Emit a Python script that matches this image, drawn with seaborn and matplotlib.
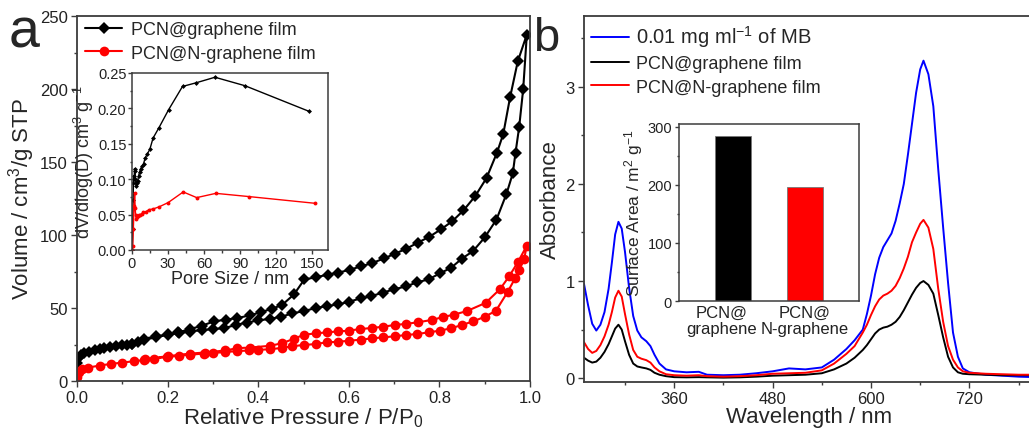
import matplotlib
matplotlib.use("Agg")
import matplotlib.pyplot as plt
import matplotlib.transforms as mtransforms
import seaborn as sns
import pandas as pd
from matplotlib.ticker import MultipleLocator

# ---------------- data ----------------
# N2 isotherms (adsorption branch then desorption branch), P/P0 vs cm3/g STP
graphene_ads_p = [0.0, 0.003, 0.008, 0.015, 0.027, 0.04, 0.05, 0.06, 0.072, 0.085, 0.099, 0.11, 0.122,
                  0.135, 0.149, 0.175, 0.2, 0.225, 0.25, 0.275, 0.301, 0.325, 0.352, 0.375, 0.4, 0.425,
                  0.451, 0.475, 0.501, 0.527, 0.551, 0.577, 0.601, 0.626, 0.65, 0.675, 0.70, 0.726,
                  0.751, 0.776, 0.801, 0.826, 0.85, 0.874, 0.90, 0.926, 0.948, 0.962, 0.968, 0.976,
                  0.985, 0.993]
graphene_ads_v = [12.2, 15.5, 17.9, 19.0, 20.2, 21.3, 22.0, 22.6, 23.3, 24.0, 24.5, 25.0, 25.5,
                  26.5, 28.2, 30.0, 31.7, 32.8, 33.9, 34.8, 35.6, 36.2, 38.5, 40.0, 41.5, 42.5,
                  44.0, 46.3, 47.9, 50.0, 51.3, 52.5, 54.3, 56.6, 58.2, 60.5, 62.8, 64.8,
                  67.6, 69.6, 73.7, 77.6, 83.9, 88.9, 98.3, 110.6, 128.1, 142.2, 156.3, 173.7,
                  200.0, 237.3]
graphene_des_p = [0.973, 0.956, 0.941, 0.927, 0.904, 0.879, 0.853, 0.828, 0.803, 0.778, 0.752, 0.727,
                  0.702, 0.678, 0.652, 0.627, 0.602, 0.577, 0.553, 0.527, 0.502, 0.479, 0.452, 0.43,
                  0.407, 0.382, 0.354, 0.328, 0.302, 0.275, 0.25, 0.223, 0.2, 0.175, 0.149, 0.122]
graphene_des_v = [218.9, 194.3, 169.2, 156.3, 139.0, 126.6, 116.8, 109.3, 103.8, 98.8, 94.7, 90.6,
                  87.2, 84.0, 80.8, 78.5, 76.2, 74.2, 72.8, 71.0, 69.6, 59.3, 51.9, 49.5,
                  47.2, 45.0, 43.1, 42.0, 40.8, 37.8, 35.6, 33.3, 32.1, 30.5, 29.1, 25.5]

ngraphene_ads_p = [0.0, 0.004, 0.012, 0.025, 0.05, 0.075, 0.099, 0.125, 0.149, 0.171, 0.198, 0.225,
                   0.25, 0.28, 0.30, 0.327, 0.354, 0.38, 0.40, 0.426, 0.452, 0.475, 0.501, 0.527,
                   0.551, 0.577, 0.601, 0.626, 0.651, 0.676, 0.701, 0.726, 0.751, 0.776, 0.801,
                   0.826, 0.85, 0.875, 0.901, 0.925, 0.951, 0.967, 0.976, 0.987, 0.993]
ngraphene_ads_v = [3.0, 6.4, 8.0, 9.2, 10.6, 11.7, 12.6, 13.5, 14.4, 15.4, 16.4, 17.3,
                   18.0, 18.8, 19.2, 19.8, 20.5, 20.9, 21.3, 21.8, 22.6, 23.8, 24.7, 25.3,
                   26.5, 26.9, 27.6, 28.3, 29.2, 29.9, 30.6, 31.5, 32.2, 33.3, 34.5,
                   36.1, 38.4, 40.9, 44.1, 48.2, 61.2, 70.3, 76.3, 83.6, 92.7]
ngraphene_des_p = [0.973, 0.954, 0.934, 0.902, 0.86, 0.832, 0.807, 0.783, 0.752, 0.726, 0.702,
                   0.676, 0.651, 0.625, 0.601, 0.577, 0.551, 0.527, 0.501, 0.478, 0.452, 0.426,
                   0.381, 0.354, 0.327, 0.282, 0.25, 0.2, 0.15]
ngraphene_des_v = [81.3, 71.7, 63.0, 53.5, 47.8, 45.5, 43.7, 41.8, 40.2, 39.1, 38.4,
                   37.2, 36.3, 35.6, 34.5, 34.0, 33.3, 32.6, 31.7, 28.8, 25.8, 24.1,
                   22.9, 22.5, 20.9, 19.5, 18.8, 17.0, 15.0]

# Pore size distributions (nm, cm3/g)
psd_graphene_d = [0.3, 0.6, 0.9, 1.2, 1.5, 1.8, 2.1, 2.5, 2.9, 3.3, 3.7, 4.2, 4.8, 5.5, 6.3, 7.2,
                  8.3, 9.6, 11.0, 12.8, 14.8, 17.5, 22.5, 30.4, 42.0, 53.0, 69.0, 94.0, 147.0]
psd_graphene_v = [0.0, 0.03, 0.07, 0.095, 0.105, 0.10, 0.115, 0.112, 0.10, 0.095, 0.09, 0.095,
                  0.098, 0.105, 0.11, 0.115, 0.118, 0.122, 0.13, 0.136, 0.142, 0.158, 0.173,
                  0.198, 0.231, 0.236, 0.244, 0.232, 0.196]
psd_ngraphene_d = [0.3, 0.6, 1.1, 1.7, 2.2, 2.6, 3.0, 3.6, 4.2, 5.0, 6.0, 7.0, 8.0, 9.2, 11.4, 14.2,
                   17.6, 22.6, 30.1, 42.6, 53.8, 69.7, 97.0, 152.0]
psd_ngraphene_v = [0.0, 0.006, 0.029, 0.062, 0.081, 0.06, 0.05, 0.044, 0.046, 0.048, 0.049,
                   0.050, 0.051, 0.053, 0.054, 0.057, 0.058, 0.061, 0.067, 0.082, 0.074,
                   0.080, 0.0755, 0.066]

# UV-vis absorption spectra
wavelength = [250, 255, 260, 265, 270, 275, 280, 284, 288, 292, 296, 300, 305, 310, 315, 320, 326,
              331, 336, 342, 350, 360, 375, 390, 400, 420, 440, 460, 480, 500, 520, 540, 555, 570,
              580, 590, 595, 600, 605, 610, 615, 620, 625, 630, 635, 640, 645, 650, 655, 660, 664,
              670, 676, 682, 688, 694, 700, 706, 712, 720, 740, 760, 780, 800]
abs_mb = [0.97, 0.75, 0.56, 0.49, 0.55, 0.68, 0.92, 1.19, 1.48, 1.61, 1.54, 1.30, 0.93, 0.64, 0.49,
          0.42, 0.38, 0.33, 0.24, 0.15, 0.09, 0.07, 0.06, 0.065, 0.035, 0.03, 0.035, 0.05, 0.07,
          0.10, 0.09, 0.11, 0.19, 0.30, 0.39, 0.50, 0.66, 0.85, 1.07, 1.24, 1.35, 1.42, 1.49, 1.62,
          1.80, 2.00, 2.30, 2.62, 2.94, 3.18, 3.27, 3.13, 2.80, 2.15, 1.55, 0.98, 0.47, 0.22, 0.10,
          0.06, 0.035, 0.025, 0.015, 0.01]
abs_graphene = [0.21, 0.18, 0.16, 0.17, 0.21, 0.27, 0.35, 0.43, 0.51, 0.55, 0.50, 0.38, 0.24, 0.15,
                0.12, 0.11, 0.10, 0.085, 0.055, 0.035, 0.02, 0.01, 0.008, 0.01, 0.008, 0.005, 0.008,
                0.015, 0.025, 0.03, 0.035, 0.05, 0.09, 0.15, 0.21, 0.29, 0.34, 0.40, 0.46, 0.50,
                0.52, 0.53, 0.55, 0.58, 0.63, 0.70, 0.78, 0.86, 0.93, 0.98, 1.00, 0.96, 0.87, 0.65,
                0.42, 0.22, 0.11, 0.06, 0.045, 0.04, 0.035, 0.03, 0.03, 0.03]
abs_ngraphene = [0.37, 0.30, 0.26, 0.28, 0.34, 0.43, 0.55, 0.68, 0.83, 0.90, 0.84, 0.66, 0.45, 0.29,
                 0.22, 0.20, 0.185, 0.16, 0.11, 0.07, 0.04, 0.03, 0.025, 0.03, 0.02, 0.015, 0.02,
                 0.03, 0.045, 0.05, 0.055, 0.08, 0.15, 0.25, 0.33, 0.47, 0.55, 0.65, 0.74, 0.81,
                 0.85, 0.87, 0.90, 0.95, 1.03, 1.13, 1.25, 1.40, 1.50, 1.59, 1.63, 1.55, 1.33, 0.92,
                 0.58, 0.33, 0.19, 0.11, 0.07, 0.055, 0.045, 0.04, 0.035, 0.035]

# BET surface areas (m2/g)
sample_labels = ["PCN@\ngraphene", "PCN@\nN-graphene"]
surface_area = [284, 196]

# ---------------- style ----------------
sns.set_theme(style="ticks")
plt.rcParams["font.family"] = ["Liberation Sans", "DejaVu Sans"]
plt.rcParams["mathtext.fontset"] = "custom"
plt.rcParams["mathtext.rm"] = "Liberation Sans"
plt.rcParams["mathtext.it"] = "Liberation Sans:italic"
plt.rcParams["mathtext.default"] = "regular"
SPINE = "#3c3c3c"
RED = "#ff0000"
BLUE = "#0000ff"

W, H = 1029, 431
fig = plt.figure(figsize=(W / 100, H / 100), dpi=100)


def px_axes(l, t, r, b):
    return fig.add_axes([l / W, 1 - b / H, (r - l) / W, (b - t) / H])


def style_axes(ax, lw=1.3, major=4.5, minor=2.5, labelsize=12):
    for s in ax.spines.values():
        s.set_color(SPINE)
        s.set_linewidth(lw)
    ax.tick_params(which="major", direction="out", length=major, width=1.0, color=SPINE,
                   labelsize=labelsize, pad=2, colors="#222222")
    ax.tick_params(which="minor", direction="out", length=minor, width=1.0, color=SPINE)


def branch_frame(ads_p, ads_v, des_p, des_v):
    return pd.DataFrame({"p": list(ads_p) + list(des_p), "v": list(ads_v) + list(des_v)})


# ---------------- panel a: isotherms ----------------
ax1 = px_axes(77, 17, 530, 382)
iso_g = branch_frame(graphene_ads_p, graphene_ads_v, graphene_des_p, graphene_des_v)
iso_n = branch_frame(ngraphene_ads_p, ngraphene_ads_v, ngraphene_des_p, ngraphene_des_v)
sns.lineplot(data=iso_g, x="p", y="v", sort=False, estimator=None, ax=ax1, color="black",
             lw=1.5, marker="D", markersize=6.3, markeredgewidth=0, label="PCN@graphene film")
sns.lineplot(data=iso_n, x="p", y="v", sort=False, estimator=None, ax=ax1, color=RED,
             lw=1.5, marker="o", markersize=7, markeredgewidth=0, label="PCN@N-graphene film")
ax1.set_xlim(0, 1.0)
ax1.set_ylim(0, 250)
ax1.xaxis.set_major_locator(MultipleLocator(0.2))
ax1.xaxis.set_minor_locator(MultipleLocator(0.1))
ax1.yaxis.set_major_locator(MultipleLocator(50))
ax1.yaxis.set_minor_locator(MultipleLocator(25))
ax1.xaxis.set_major_formatter(lambda v, p: f"{v:.1f}")
style_axes(ax1)
ax1.set_xlabel("Relative Pressure / P/P$_0$", fontsize=16, labelpad=0)
ax1.set_ylabel("Volume / cm$^3$/g STP", fontsize=16, labelpad=2)
leg1 = ax1.legend(loc="upper left", bbox_to_anchor=(0.0, 1.008), frameon=False, fontsize=13,
                  handlelength=2.05, handletextpad=0.5, labelspacing=0.35, borderaxespad=0.05)

# inset: pore size distribution
ax1i = px_axes(132, 74, 328, 251)
sns.lineplot(x=psd_graphene_d, y=psd_graphene_v, sort=False, estimator=None, ax=ax1i,
             color="black", lw=1.0, marker="D", markersize=2.5, markeredgewidth=0)
sns.lineplot(x=psd_ngraphene_d, y=psd_ngraphene_v, sort=False, estimator=None, ax=ax1i,
             color=RED, lw=1.0, marker="o", markersize=2.8, markeredgewidth=0)
ax1i.set_xlim(0, 163)
ax1i.set_ylim(0, 0.25)
ax1i.xaxis.set_major_locator(MultipleLocator(30))
ax1i.xaxis.set_minor_locator(MultipleLocator(15))
ax1i.yaxis.set_major_locator(MultipleLocator(0.05))
ax1i.yaxis.set_minor_locator(MultipleLocator(0.025))
ax1i.yaxis.set_major_formatter(lambda v, p: f"{v:.2f}")
style_axes(ax1i, lw=1.1, major=3, minor=1.8, labelsize=10.5)
ax1i.tick_params(pad=1)
ax1i.set_xlabel("Pore Size / nm", fontsize=13, labelpad=0)
ax1i.set_ylabel("dV/dlog(D) cm$^3$ g$^{-1}$", fontsize=13, labelpad=1)

# ---------------- panel b: UV-vis ----------------
ax2 = px_axes(584, 17, 1035, 383)
spec = pd.DataFrame({"wl": wavelength, "mb": abs_mb, "g": abs_graphene, "n": abs_ngraphene})
sns.lineplot(data=spec, x="wl", y="mb", ax=ax2, color=BLUE, lw=1.4,
             label="0.01 mg ml$^{-1}$ of MB")
sns.lineplot(data=spec, x="wl", y="g", ax=ax2, color="black", lw=1.4,
             label="PCN@graphene film")
sns.lineplot(data=spec, x="wl", y="n", ax=ax2, color=RED, lw=1.4,
             label="PCN@N-graphene film")
ax2.set_xlim(250, 800)
ax2.set_ylim(-0.04, 3.73)
ax2.set_xticks([360, 480, 600, 720])
ax2.xaxis.set_minor_locator(MultipleLocator(60))
ax2.yaxis.set_major_locator(MultipleLocator(1))
ax2.yaxis.set_minor_locator(MultipleLocator(0.5))
style_axes(ax2)
ax2.set_xlabel("Wavelength / nm", fontsize=16, labelpad=0)
ax2.set_ylabel("Absorbance", fontsize=16, labelpad=3)
leg2 = ax2.legend(loc="upper left", bbox_to_anchor=(0.0, 1.0), frameon=False, fontsize=13,
                  handlelength=2.1, handletextpad=0.4, labelspacing=0.35, borderaxespad=0.0)
leg2.get_texts()[0].set_fontsize(14.5)

# inset: surface area bars
ax2i = px_axes(679, 125, 859, 302)
sns.barplot(x=sample_labels, y=surface_area, hue=sample_labels, palette=["black", RED],
            saturation=1, width=0.5, legend=False, ax=ax2i, edgecolor="#777777", linewidth=0.6)
ax2i.set_xlim(-0.75, 1.75)
ax2i.set_ylim(0, 305)
ax2i.yaxis.set_major_locator(MultipleLocator(100))
ax2i.yaxis.set_minor_locator(MultipleLocator(50))
style_axes(ax2i, lw=1.1, major=3, minor=1.8, labelsize=10.5)
ax2i.tick_params(axis="x", length=0, labelsize=12, pad=3)
xlabels = ax2i.get_xticklabels()
for t in xlabels:
    t.set_linespacing(1.1)
# nudge the first category label left so the two two-line labels don't collide
xlabels[0].set_transform(xlabels[0].get_transform()
                         + mtransforms.ScaledTranslation(-11 / 100, 0, fig.dpi_scale_trans))
ax2i.set_ylabel("Surface Area / m$^2$ g$^{-1}$", fontsize=12.5, labelpad=2)
ax2i.set_xlabel("")

# panel letters
fig.text(9 / W, 1 - 47 / H, "a", fontsize=40, ha="left", va="baseline")
fig.text(533 / W, 1 - 51 / H, "b", fontsize=34, ha="left", va="baseline")

fig.savefig("out.png", dpi=100)
